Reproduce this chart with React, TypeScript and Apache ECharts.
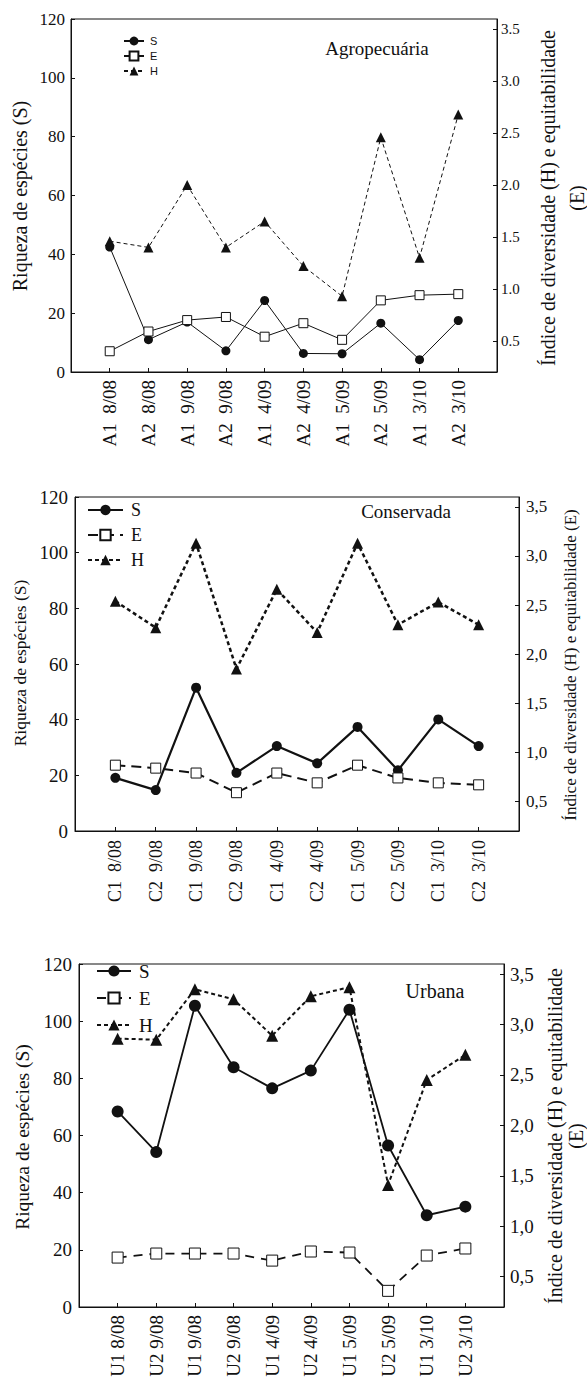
import React, { useEffect, useRef } from 'react';
import * as echarts from 'echarts';

// ---------- data ----------
const catsA = ['A1 8/08', 'A2 8/08', 'A1 9/08', 'A2 9/08', 'A1 4/09', 'A2 4/09', 'A1 5/09', 'A2 5/09', 'A1 3/10', 'A2 3/10'];
const sA = [42.5, 11.0, 17.0, 7.2, 24.3, 6.3, 6.2, 16.6, 4.2, 17.5];
const eA = [0.40, 0.59, 0.70, 0.73, 0.54, 0.67, 0.51, 0.89, 0.94, 0.95];
const hA = [1.46, 1.40, 2.00, 1.40, 1.65, 1.22, 0.93, 2.46, 1.30, 2.68];

const catsC = ['C1 8/08', 'C2 9/08', 'C1 9/08', 'C2 9/08', 'C1 4/09', 'C2 4/09', 'C1 5/09', 'C2 5/09', 'C1 3/10', 'C2 3/10'];
const sC = [19.1, 14.7, 51.5, 20.9, 30.5, 24.3, 37.4, 21.8, 40.1, 30.5];
const eC = [0.87, 0.84, 0.79, 0.59, 0.79, 0.69, 0.87, 0.74, 0.69, 0.67];
const hC = [2.54, 2.27, 3.13, 1.85, 2.66, 2.22, 3.13, 2.30, 2.53, 2.30];

const catsU = ['U1 8/08', 'U2 9/08', 'U1 9/08', 'U2 9/08', 'U1 4/09', 'U2 4/09', 'U1 5/09', 'U2 5/09', 'U1 3/10', 'U2 3/10'];
const sU = [68.4, 54.2, 105.4, 83.9, 76.5, 82.7, 104.0, 56.5, 32.1, 35.1];
const eU = [0.69, 0.73, 0.73, 0.73, 0.66, 0.75, 0.74, 0.36, 0.71, 0.78];
const hU = [2.86, 2.85, 3.35, 3.25, 2.89, 3.28, 3.37, 1.41, 2.45, 2.70];

const leftTicks = { min: 0, max: 120, interval: 20 };
const rightTicks = [0.5, 1.0, 1.5, 2.0, 2.5, 3.0, 3.5];
const rightRange = { min: 0.2, max: 3.6 };

const titles = ['Agropecuária', 'Conservada', 'Urbana'];
const leftName = 'Riqueza de espécies (S)';
const rightName = 'Índice de diversidade (H) e equitabilidade';
const rightNameTail = '(E)';

// ---------- styling ----------
const SERIF = "'Liberation Serif', 'Times New Roman', Times, serif";
const SANS = "'Liberation Sans', Arial, Helvetica, sans-serif";
const INK = '#111';

type Panel = {
  cats: string[]; s: number[]; e: number[]; h: number[];
  grid: { left: number; top: number; width: number; height: number };
  decimal: string;
  tickFont: number; rightTickFont: number; xFont: number; xGap: string;
  leftMargin: number; rightMargin: number; xMargin: number;
  lw: { s: number; e: number; h: number };
  eDash: number[] | 'solid'; hDash: number[];
  sym: { s: number; e: number; h: number };
  legend: { left: number; top: number; itemWidth: number; itemHeight: number; itemGap: number; font: number; family: string; lineHeight: number; pad: number };
  title: { x: number; y: number; size: number };
  lname: { x: number; y: number; size: number };
  rname: { x: number; y: number; size: number; text: string; lineHeight: number };
  suffix: string;
};

const panels: Panel[] = [
  {
    cats: catsA, s: sA, e: eA, h: hA,
    grid: { left: 71, top: 19, width: 426, height: 353 },
    decimal: '.', tickFont: 17, rightTickFont: 15, xFont: 19, xGap: '  ',
    leftMargin: 6, rightMargin: 4, xMargin: 8,
    lw: { s: 1, e: 1, h: 1 }, eDash: 'solid', hDash: [4, 3],
    sym: { s: 9, e: 9, h: 10 },
    legend: { left: 123, top: 35, itemWidth: 20, itemHeight: 11, itemGap: 3, font: 11, family: SANS, lineHeight: 12, pad: 1 },
    title: { x: 377, y: 48, size: 19 },
    lname: { x: 20, y: 196, size: 20 },
    rname: { x: 562, y: 198, size: 20, text: rightName + '\n' + rightNameTail, lineHeight: 29 },
    suffix: '',
  },
  {
    cats: catsC, s: sC, e: eC, h: hC,
    grid: { left: 75, top: 497, width: 444, height: 334 },
    decimal: ',', tickFont: 19, rightTickFont: 17, xFont: 18, xGap: '  ',
    leftMargin: 7, rightMargin: 7, xMargin: 9,
    lw: { s: 2.2, e: 2, h: 2.5 }, eDash: [10, 6], hDash: [4, 3],
    sym: { s: 10, e: 10, h: 11 },
    legend: { left: 87, top: 500, itemWidth: 35, itemHeight: 13, itemGap: 5, font: 18, family: SERIF, lineHeight: 20, pad: 3 },
    title: { x: 406, y: 511, size: 19 },
    lname: { x: 20, y: 663, size: 17.5 },
    rname: { x: 570, y: 665, size: 17, text: rightName + ' ' + rightNameTail, lineHeight: 20 },
    suffix: ' ',
  },
  {
    cats: catsU, s: sU, e: eU, h: hU,
    grid: { left: 79, top: 964, width: 425, height: 343 },
    decimal: ',', tickFont: 19, rightTickFont: 19, xFont: 19, xGap: ' ',
    leftMargin: 7, rightMargin: 6, xMargin: 8,
    lw: { s: 1.8, e: 1.8, h: 2 }, eDash: [9, 7], hDash: [4, 3],
    sym: { s: 12, e: 11, h: 12 },
    legend: { left: 96, top: 961, itemWidth: 34, itemHeight: 14, itemGap: 7, font: 19, family: SERIF, lineHeight: 20, pad: 3 },
    title: { x: 435, y: 991, size: 20 },
    lname: { x: 22, y: 1137, size: 19.5 },
    rname: { x: 565, y: 1136, size: 20, text: rightName + '\n' + rightNameTail, lineHeight: 21 },
    suffix: '  ',
  },
];

function buildOption() {
  const grid: any[] = [];
  const xAxis: any[] = [];
  const yAxis: any[] = [];
  const series: any[] = [];
  const legend: any[] = [];
  const graphic: any[] = [];

  panels.forEach((p, i) => {
    const n = p.cats.length;
    const shown = (idx: number) => idx > 0 && idx <= n;
    grid.push({ ...p.grid, show: true, borderColor: INK, borderWidth: 1, backgroundColor: 'transparent', containLabel: false, outerBoundsMode: 'none' });
    xAxis.push({
      type: 'category', gridIndex: i, boundaryGap: false,
      data: ['', ...p.cats, ' '],
      axisLine: { show: true, lineStyle: { color: INK, width: 1 } },
      axisTick: { show: true, inside: true, length: 4, interval: shown, lineStyle: { color: INK } },
      axisLabel: {
        show: true, interval: shown, rotate: 90, margin: p.xMargin,
        fontSize: p.xFont, fontFamily: SERIF, color: INK,
        formatter: (v: string) => v.replace(' ', p.xGap),
      },
      splitLine: { show: false },
    });
    yAxis.push({
      type: 'value', gridIndex: i, position: 'left',
      min: leftTicks.min, max: leftTicks.max, interval: leftTicks.interval,
      axisLine: { show: true, lineStyle: { color: INK, width: 1 } },
      axisTick: { show: true, inside: true, length: 4, lineStyle: { color: INK } },
      axisLabel: { margin: p.leftMargin, fontSize: p.tickFont, fontFamily: SERIF, color: INK },
      splitLine: { show: false },
    });
    yAxis.push({
      type: 'value', gridIndex: i, position: 'right',
      min: rightRange.min, max: rightRange.max,
      axisLine: { show: true, lineStyle: { color: INK, width: 1 } },
      axisTick: { show: true, inside: true, length: 4, customValues: rightTicks, lineStyle: { color: INK } },
      axisLabel: {
        customValues: rightTicks, margin: p.rightMargin, fontSize: p.rightTickFont, fontFamily: SERIF, color: INK,
        formatter: (v: number) => v.toFixed(1).replace('.', p.decimal),
      },
      splitLine: { show: false },
    });

    const nm = (b: string) => b + p.suffix;
    const toData = (arr: number[]) => arr.map((v, k) => [k + 1, v]);
    series.push({
      name: nm('S'), type: 'line', xAxisIndex: i, yAxisIndex: 2 * i, data: toData(p.s),
      symbol: 'circle', symbolSize: p.sym.s,
      lineStyle: { color: INK, width: p.lw.s, type: 'solid' },
      itemStyle: { color: INK },
    });
    series.push({
      name: nm('E'), type: 'line', xAxisIndex: i, yAxisIndex: 2 * i + 1, data: toData(p.e),
      symbol: 'rect', symbolSize: p.sym.e,
      lineStyle: { color: INK, width: p.lw.e, type: p.eDash },
      itemStyle: { color: '#fff', borderColor: INK, borderWidth: 1 },
    });
    series.push({
      name: nm('H'), type: 'line', xAxisIndex: i, yAxisIndex: 2 * i + 1, data: toData(p.h),
      symbol: 'triangle', symbolSize: p.sym.h,
      lineStyle: { color: INK, width: p.lw.h, type: p.hDash },
      itemStyle: { color: INK },
    });

    legend.push({
      orient: 'vertical', left: p.legend.left, top: p.legend.top,
      itemWidth: p.legend.itemWidth, itemHeight: p.legend.itemHeight, itemGap: p.legend.itemGap,
      selectedMode: false, padding: 0,
      data: [nm('S'), nm('E'), nm('H')],
      formatter: (name: string) => name.trim(),
      textStyle: { fontSize: p.legend.font, fontFamily: p.legend.family, color: INK, lineHeight: p.legend.lineHeight, padding: [0, 0, 0, p.legend.pad] },
    });

    graphic.push({
      type: 'text', x: p.title.x, y: p.title.y,
      style: { text: titles[i], fontSize: p.title.size, fontFamily: SERIF, fill: INK, align: 'center', verticalAlign: 'middle' },
    });
    graphic.push({
      type: 'text', x: p.lname.x, y: p.lname.y, rotation: Math.PI / 2,
      style: { text: leftName, fontSize: p.lname.size, fontFamily: SERIF, fill: INK, align: 'center', verticalAlign: 'middle' },
    });
    graphic.push({
      type: 'text', x: p.rname.x, y: p.rname.y, rotation: Math.PI / 2,
      style: { text: p.rname.text, fontSize: p.rname.size, lineHeight: p.rname.lineHeight, fontFamily: SERIF, fill: INK, align: 'center', verticalAlign: 'middle' },
    });
  });

  return {
    animation: false,
    backgroundColor: '#fff',
    grid, xAxis, yAxis, series, legend, graphic,
  };
}

export default function App() {
  const ref = useRef<HTMLDivElement>(null);
  useEffect(() => {
    document.body.style.margin = '0';
    if (!ref.current) return;
    const chart = echarts.init(ref.current, undefined, { renderer: 'svg' });
    chart.setOption(buildOption() as any);
    return () => chart.dispose();
  }, []);
  return <div ref={ref} style={{ position: 'absolute', left: 0, top: 0, width: 587, height: 1381, background: '#fff' }} />;
}
